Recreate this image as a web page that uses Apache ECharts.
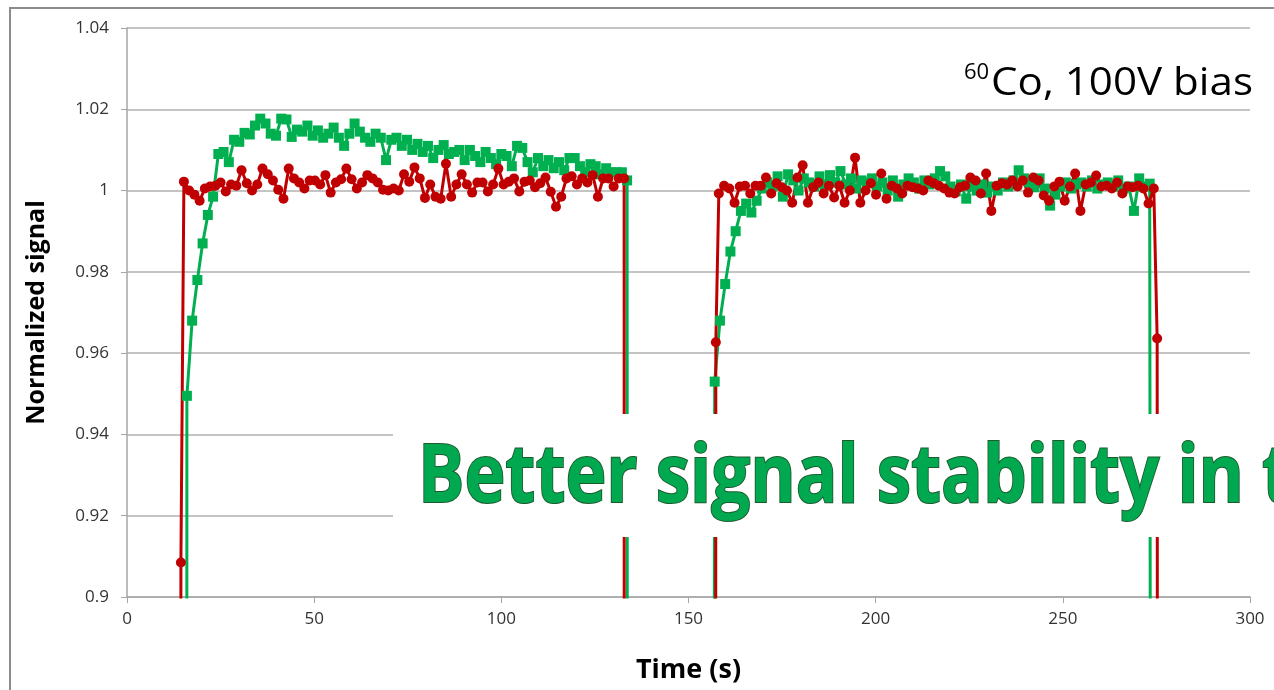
<!DOCTYPE html>
<html>
<head>
<meta charset="utf-8">
<title>Normalized signal vs time</title>
<script src="https://cdn.jsdelivr.net/npm/echarts@6/dist/echarts.min.js"></script>
<style>
  html, body { margin: 0; padding: 0; background: #fff; }
  #chart { width: 1274px; height: 690px; }
</style>
</head>
<body>
<div id="chart"></div>
<script>
// logger sample spacing (s)
const step = 1.4;

// first irradiation, green (square markers)
const greenT1 = 16.0;
const greenRun1 = [
  0.9495, 0.968, 0.978, 0.987, 0.994, 0.9985, 1.009, 1.0095, 1.0070, 1.0125,
  1.0120, 1.0142, 1.0138, 1.0160, 1.0177, 1.0165, 1.0140, 1.0135, 1.0177, 1.0175,
  1.0132, 1.0150, 1.0145, 1.0160, 1.0135, 1.0148, 1.0130, 1.0140, 1.0155, 1.0130,
  1.0110, 1.0140, 1.0165, 1.0145, 1.0130, 1.0120, 1.0140, 1.0130, 1.0075, 1.0125,
  1.0130, 1.0110, 1.0125, 1.0100, 1.0115, 1.0095, 1.0110, 1.0080, 1.0100, 1.0112,
  1.0090, 1.0095, 1.0100, 1.0075, 1.0100, 1.0085, 1.0070, 1.0095, 1.0080, 1.0065,
  1.0090, 1.0085, 1.0060, 1.0110, 1.0105, 1.0070, 1.0045, 1.0080, 1.0060, 1.0075,
  1.0055, 1.0070, 1.0050, 1.0080, 1.0080, 1.0060, 1.0045, 1.0065, 1.0060, 1.0040,
  1.0055, 1.0045, 1.0045, 1.0045, 1.0025
];
const greenLead1 = [[15.9, 0.5]];
const greenTail1 = [[133.8, 0.5]];

// first irradiation, red (round markers)
const redT1 = 15.2;
const redRun1 = [
  1.0022, 1.0000, 0.9990, 0.9975, 1.0005, 1.0010, 1.0012, 1.0020, 0.9998, 1.0015,
  1.0012, 1.0050, 1.0018, 1.0000, 1.0015, 1.0054, 1.0040, 1.0025, 1.0002, 0.9980,
  1.0054, 1.0030, 1.0020, 1.0005, 1.0025, 1.0025, 1.0015, 1.0038, 0.9995, 1.0020,
  1.0028, 1.0054, 1.0028, 1.0005, 1.0020, 1.0038, 1.0030, 1.0020, 1.0002, 1.0000,
  1.0005, 1.0000, 1.0040, 1.0022, 1.0057, 1.0030, 0.9982, 1.0015, 0.9985, 0.9980,
  1.0066, 0.9985, 1.0015, 1.0040, 1.0015, 0.9995, 1.0020, 1.0020, 0.9998, 1.0015,
  1.0054, 1.0015, 1.0022, 1.0030, 0.9998, 1.0022, 1.0025, 1.0008, 1.0018, 1.0032,
  0.9997, 0.9960, 0.9985, 1.0030, 1.0035, 1.0015, 1.0030, 1.0020, 1.0038, 0.9985,
  1.0030, 1.0030, 1.0010, 1.0030, 1.0030
];
const redLead1 = [[14.2, 0.5], [14.4, 0.9085]];
const redTail1 = [[132.9, 0.5]];

// second irradiation, green
const greenT2 = 157.0;
const greenRun2 = [
  0.953, 0.968, 0.977, 0.985, 0.990, 0.9950, 0.9968, 0.9946, 0.9975, 1.0005,
  1.0020, 1.0010, 1.0035, 0.9985, 1.0040, 1.0025, 1.0000, 1.0030, 1.0020, 1.0010,
  1.0035, 1.0015, 1.0038, 1.0020, 1.0048, 1.0015, 1.0030, 1.0005, 1.0025, 1.0020,
  1.0030, 1.0010, 1.0020, 1.0000, 1.0025, 0.9985, 1.0015, 1.0030, 1.0020, 1.0005,
  1.0025, 1.0015, 1.0030, 1.0048, 1.0035, 1.0010, 0.9998, 1.0015, 0.9980, 1.0010,
  1.0000, 1.0015, 0.9995, 1.0010, 1.0000, 1.0020, 1.0010, 1.0025, 1.0050, 1.0030,
  1.0020, 1.0008, 1.0030, 1.0005, 0.9963, 0.9990, 1.0010, 1.0020, 1.0005, 1.0015,
  1.0020, 1.0010, 1.0025, 1.0005, 1.0015, 1.0020, 1.0010, 1.0025, 1.0005, 1.0010,
  0.9950, 1.0030, 1.0010, 1.0017
];
const greenLead2 = [[156.2, 0.5]];
const greenTail2 = [[273.9, 0.5]];

// second irradiation, red
const redT2 = 158.1;
const redRun2 = [
  0.9993, 1.0012, 1.0005, 0.9970, 1.0010, 1.0012, 0.9993, 1.0012, 1.0012, 1.0032,
  0.9993, 1.0018, 1.0008, 1.0000, 0.9970, 1.0032, 1.0062, 0.9970, 1.0008, 1.0020,
  0.9993, 1.0012, 0.9983, 1.0012, 0.9970, 1.0000, 1.0081, 0.9970, 1.0000, 1.0018,
  0.9990, 1.0042, 0.9980, 1.0012, 1.0005, 0.9993, 1.0012, 1.0008, 1.0005, 1.0000,
  1.0025, 1.0018, 1.0012, 1.0005, 0.9995, 0.9993, 1.0008, 1.0012, 1.0032, 1.0025,
  0.9993, 1.0042, 0.9950, 1.0012, 1.0018, 1.0015, 1.0025, 1.0010, 1.0025, 0.9995,
  1.0032, 1.0025, 0.9988, 0.9975, 1.0010, 1.0022, 0.9975, 1.0010, 1.0042, 0.9950,
  1.0015, 1.0020, 1.0037, 1.0010, 1.0012, 1.0005, 1.0020, 0.9993, 1.0010, 1.0008,
  1.0012, 1.0005, 0.9968, 1.0005
];
const redLead2 = [[157.1, 0.5], [157.3, 0.9627]];
const redTail2 = [[275.2, 0.9636], [275.5, 0.5]];

const xTicks = { min: 0, max: 300, interval: 50 };
const yTicks = { min: 0.9, max: 1.04, interval: 0.02 };

const GREEN = '#00b050';
const RED = '#c00000';

function run(start, values) {
  return values.map((v, i) => [Math.round((start + i * step) * 100) / 100, v]);
}

function lineSeries(name, data, color, symbol, size) {
  return {
    name: name,
    type: 'line',
    data: data,
    symbol: symbol,
    symbolSize: size,
    showAllSymbol: true,
    clip: true,
    lineStyle: { color: color, width: 3 },
    itemStyle: { color: color },
    emphasis: { disabled: true }
  };
}

// measure text so the overlay lettering spans the same width as in the slide
const measureCtx = document.createElement('canvas').getContext('2d');
function widthOf(text, font) {
  measureCtx.font = font;
  return measureCtx.measureText(text).width;
}

const bannerFont = 'bold 80px "Open Sans"';
const bannerScale = 826 / widthOf('Better signal stability in', bannerFont);
const labelFont = '39px "Open Sans"';
const labelScale = 262 / widthOf('Co, 100V bias', labelFont);

const chart = echarts.init(document.getElementById('chart'));

let option = {
  animation: false,
  backgroundColor: '#fff',
  grid: { left: 127, right: 24, top: 28, bottom: 93 },
  xAxis: {
    type: 'value',
    min: xTicks.min,
    max: xTicks.max,
    interval: xTicks.interval,
    name: 'Time (s)',
    nameLocation: 'middle',
    nameGap: 60,
    nameTextStyle: { fontFamily: 'Open Sans', fontWeight: 'bold', fontSize: 27, color: '#000' },
    axisLine: { lineStyle: { color: '#a6a6a6', width: 1.5 } },
    axisTick: { show: true, length: 6, lineStyle: { color: '#a6a6a6' } },
    axisLabel: { fontFamily: 'Open Sans', fontSize: 17, color: '#333', margin: 14 },
    splitLine: { show: false }
  },
  yAxis: {
    type: 'value',
    min: yTicks.min,
    max: yTicks.max,
    interval: yTicks.interval,
    name: 'Normalized signal',
    nameLocation: 'middle',
    nameGap: 78,
    nameTextStyle: { fontFamily: 'Open Sans', fontWeight: 'bold', fontSize: 25, color: '#000' },
    axisLine: { show: true, lineStyle: { color: '#a6a6a6', width: 1.5 } },
    axisTick: { show: true, length: 6, lineStyle: { color: '#a6a6a6' } },
    axisLabel: { fontFamily: 'Open Sans', fontSize: 17, color: '#333', margin: 18 },
    splitLine: { show: true, lineStyle: { color: '#b0b0b0', width: 1.5 } }
  },
  series: [
    lineSeries('green1', greenLead1.concat(run(greenT1, greenRun1), greenTail1), GREEN, 'rect', 10),
    lineSeries('green2', greenLead2.concat(run(greenT2, greenRun2), greenTail2), GREEN, 'rect', 10),
    lineSeries('red1', redLead1.concat(run(redT1, redRun1), redTail1), RED, 'circle', 10),
    lineSeries('red2', redLead2.concat(run(redT2, redRun2), redTail2), RED, 'circle', 10)
  ],
  graphic: [
    {
      type: 'rect',
      silent: true,
      z: 0,
      shape: { x: 10, y: 8, width: 1400, height: 800 },
      style: { fill: 'none', stroke: '#8c8c8c', lineWidth: 2 }
    },
    {
      type: 'text',
      silent: true,
      z: 50,
      x: 964,
      y: 73,
      style: { text: '60', font: '22px "Open Sans"', fill: '#000', verticalAlign: 'middle' }
    },
    {
      type: 'text',
      silent: true,
      z: 50,
      x: 991,
      y: 84,
      scaleX: labelScale,
      style: { text: 'Co, 100V bias', font: labelFont, fill: '#000', verticalAlign: 'middle' }
    },
    {
      type: 'rect',
      silent: true,
      z: 100,
      shape: { x: 393, y: 414, width: 900, height: 123 },
      style: { fill: '#fff' }
    },
    {
      type: 'text',
      silent: true,
      z: 101,
      x: 418,
      y: 479,
      scaleX: bannerScale,
      style: {
        text: 'Better signal stability in the',
        font: bannerFont,
        fill: '#00a84f',
        stroke: '#1d5a2e',
        lineWidth: 2,
        verticalAlign: 'middle',
        shadowColor: 'rgba(0,0,0,0.45)',
        shadowBlur: 3,
        shadowOffsetX: 1,
        shadowOffsetY: 2
      }
    }
  ]
};

chart.setOption(option);
</script>
</body>
</html>
